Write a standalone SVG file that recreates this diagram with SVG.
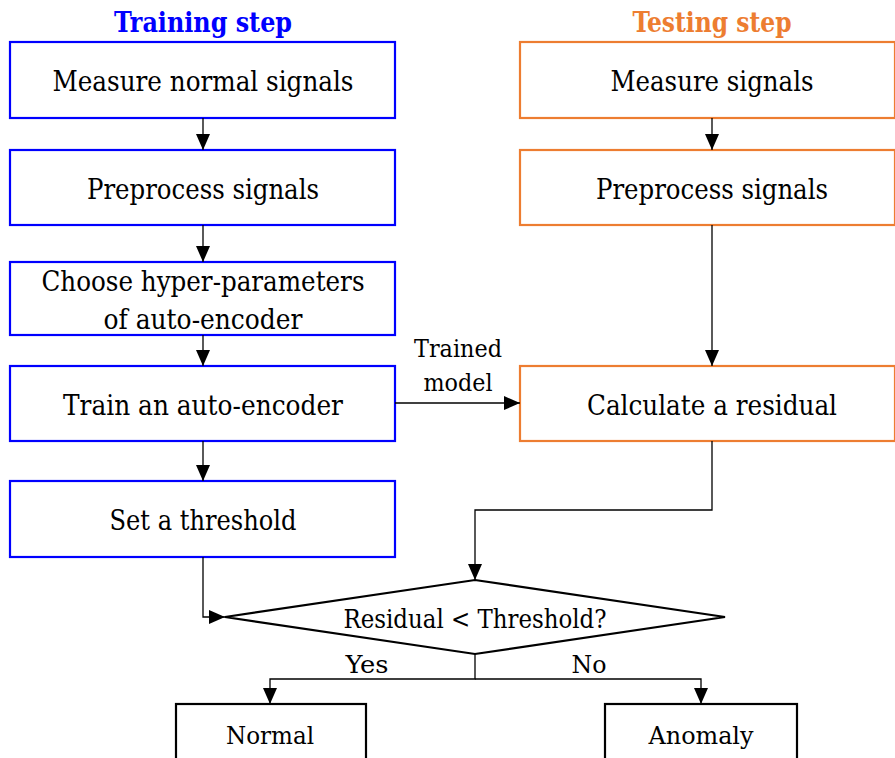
<svg xmlns="http://www.w3.org/2000/svg" width="895" height="758" viewBox="0 0 895 758">
  <style>
    .train { fill: #ffffff; stroke: #0000ff; stroke-width: 2.2; }
    .test { fill: #ffffff; stroke: #ed7d31; stroke-width: 2.2; }
    .plain { fill: #ffffff; stroke: #000000; stroke-width: 2.2; }
    text { font-family: "DejaVu Serif Condensed", "DejaVu Serif", serif; font-stretch: condensed; text-anchor: middle; fill: #000000; }
    .label { font-size: 27.7px; }
    .dec { font-size: 25.5px; }
    .small { font-size: 24.6px; }
    .title { font-size: 27.3px; font-weight: bold; }
    .wire { fill: none; stroke: #000000; stroke-width: 1.3; }
  </style>
  <defs>
    <marker id="arrow" viewBox="0 0 16 14" refX="16" refY="7" markerWidth="16" markerHeight="14" markerUnits="userSpaceOnUse" orient="auto">
      <path d="M0,0 L16,7 L0,14 Z" fill="#000000"/>
    </marker>
  </defs>

  <rect width="895" height="758" fill="#ffffff"/>

  <text class="title" x="203" y="32" style="fill:#0000ff" textLength="178" lengthAdjust="spacingAndGlyphs">Training step</text>
  <text class="title" x="712" y="32" style="fill:#ed7d31" textLength="159" lengthAdjust="spacingAndGlyphs">Testing step</text>

  <!-- training column -->
  <g id="measure-normal">
    <rect class="train" x="10" y="42" width="385" height="76"/>
    <text class="label" x="203" y="91" textLength="301" lengthAdjust="spacingAndGlyphs">Measure normal signals</text>
  </g>
  <g id="preprocess-train">
    <rect class="train" x="10" y="150" width="385" height="75"/>
    <text class="label" x="203" y="199" textLength="232" lengthAdjust="spacingAndGlyphs">Preprocess signals</text>
  </g>
  <g id="hyperparams">
    <rect class="train" x="10" y="262" width="385" height="73"/>
    <text class="label" x="203" y="291" textLength="323" lengthAdjust="spacingAndGlyphs">Choose hyper-parameters</text>
    <text class="label" x="203" y="329" textLength="199" lengthAdjust="spacingAndGlyphs">of auto-encoder</text>
  </g>
  <g id="train-ae">
    <rect class="train" x="10" y="366" width="385" height="75"/>
    <text class="label" x="203" y="415" textLength="280" lengthAdjust="spacingAndGlyphs">Train an auto-encoder</text>
  </g>
  <g id="threshold">
    <rect class="train" x="10" y="481" width="385" height="76"/>
    <text class="label" x="203" y="530" textLength="187" lengthAdjust="spacingAndGlyphs">Set a threshold</text>
  </g>

  <!-- testing column -->
  <g id="measure">
    <rect class="test" x="520" y="42" width="375" height="76"/>
    <text class="label" x="712" y="91" textLength="203" lengthAdjust="spacingAndGlyphs">Measure signals</text>
  </g>
  <g id="preprocess-test">
    <rect class="test" x="520" y="150" width="375" height="75"/>
    <text class="label" x="712" y="199" textLength="232" lengthAdjust="spacingAndGlyphs">Preprocess signals</text>
  </g>
  <g id="residual">
    <rect class="test" x="520" y="366" width="375" height="75"/>
    <text class="label" x="712" y="415" textLength="250" lengthAdjust="spacingAndGlyphs">Calculate a residual</text>
  </g>

  <!-- decision and outcomes -->
  <g id="decision">
    <polygon class="plain" points="475,580 725,617 475,654 225,617"/>
    <text class="dec" x="475" y="628" textLength="263" lengthAdjust="spacingAndGlyphs">Residual &lt; Threshold?</text>
  </g>
  <g id="normal">
    <rect class="plain" x="176" y="704" width="190" height="70"/>
    <text class="small" x="270" y="744" textLength="88" lengthAdjust="spacingAndGlyphs">Normal</text>
  </g>
  <g id="anomaly">
    <rect class="plain" x="605" y="704" width="192" height="70"/>
    <text class="small" x="701" y="744" textLength="105" lengthAdjust="spacingAndGlyphs">Anomaly</text>
  </g>

  <g id="connectors">
    <line class="wire" x1="203" y1="118" x2="203" y2="150" marker-end="url(#arrow)"/>
    <line class="wire" x1="203" y1="225" x2="203" y2="262" marker-end="url(#arrow)"/>
    <line class="wire" x1="203" y1="335" x2="203" y2="366" marker-end="url(#arrow)"/>
    <line class="wire" x1="203" y1="441" x2="203" y2="481" marker-end="url(#arrow)"/>
    <polyline class="wire" points="203,557 203,617 225,617" marker-end="url(#arrow)"/>

    <line class="wire" x1="712" y1="118" x2="712" y2="150" marker-end="url(#arrow)"/>
    <line class="wire" x1="712" y1="225" x2="712" y2="366" marker-end="url(#arrow)"/>
    <polyline class="wire" points="712,441 712,510 475,510 475,580" marker-end="url(#arrow)"/>

    <line class="wire" x1="395" y1="403" x2="520" y2="403" marker-end="url(#arrow)"/>
    <text class="small" x="458" y="357" textLength="88" lengthAdjust="spacingAndGlyphs">Trained</text>
    <text class="small" x="458" y="391" textLength="69" lengthAdjust="spacingAndGlyphs">model</text>

    <polyline class="wire" points="475,654 475,679 270,679 270,704" marker-end="url(#arrow)"/>
    <polyline class="wire" points="475,679 701,679 701,704" marker-end="url(#arrow)"/>
    <text class="small" x="367" y="673" textLength="43" lengthAdjust="spacingAndGlyphs">Yes</text>
    <text class="small" x="589" y="673" textLength="35" lengthAdjust="spacingAndGlyphs">No</text>
  </g>
</svg>
